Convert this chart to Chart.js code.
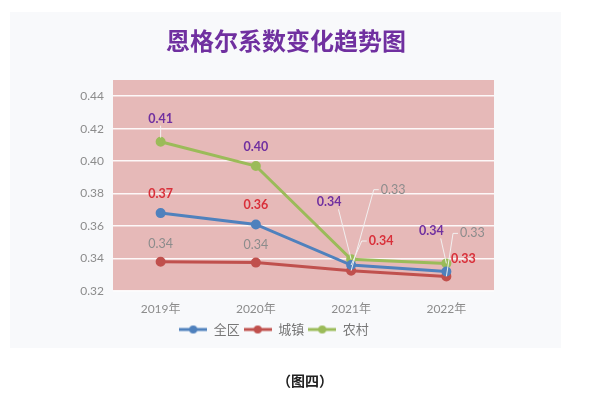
<!DOCTYPE html>
<html>
<head>
<meta charset="utf-8">
<script src="https://cdn.jsdelivr.net/npm/chart.js@4"></script>
<style>
  body { margin: 0; background: #fff; }
  #wrap { position: relative; width: 600px; height: 395px; }
  #chart { position: absolute; left: 0; top: 0; }
  #title {
    position: absolute; left: 0; top: 22px; width: 572px; line-height: 30px;
    text-align: center; font: bold 24px "Noto Sans CJK SC", sans-serif; color: #7030a0;
  }
  #caption {
    position: absolute; left: 0; top: 370px; width: 610px; line-height: 20px;
    text-align: center; font: 600 14px "Noto Sans CJK SC", sans-serif; color: #222;
  }
</style>
</head>
<body>
<div id="wrap">
  <canvas id="chart" width="600" height="395"></canvas>
  <div id="title">恩格尔系数变化趋势图</div>
  <div id="caption">（图四）</div>
</div>
<script>
const years = ["2019年", "2020年", "2021年", "2022年"];
const quanqu = [0.368, 0.361, 0.336, 0.332];      // 全区
const chengzhen = [0.338, 0.3375, 0.3325, 0.329]; // 城镇
const nongcun = [0.412, 0.397, 0.3395, 0.337];    // 农村
const yTicks = [0.32, 0.34, 0.36, 0.38, 0.40, 0.42, 0.44];

const FONT = "Lato, 'Noto Sans CJK SC', sans-serif";

// data label placement: [dx, dy, leader line?]
const labelPos = [
  [[0, -19, 0], [0, -19, 0], [30, -24, 1], [17, -13, 0]],
  [[0, -18, 0], [0, -18, 0], [42, -81, 1], [26, -43, 1]],
  [[0, -23, 1], [0, -19, 0], [-22, -57, 1], [-15, -32, 1]]
];
const labelStyle = [
  { color: "#d9303a", weight: "bold" },
  { color: "#8c8c8c", weight: "normal" },
  { color: "#7030a0", weight: "bold" }
];

// legend marker: short line with a dot, like the Excel legend
function legendMark(color) {
  const c = document.createElement("canvas");
  c.width = 28; c.height = 10;
  const g = c.getContext("2d");
  g.strokeStyle = color; g.lineWidth = 3;
  g.beginPath(); g.moveTo(0, 5); g.lineTo(28, 5); g.stroke();
  g.fillStyle = color;
  g.beginPath(); g.arc(14, 5, 4, 0, Math.PI * 2); g.fill();
  return c;
}

const backgrounds = {
  id: "backgrounds",
  beforeDraw(chart) {
    const ctx = chart.ctx, a = chart.chartArea;
    ctx.save();
    ctx.fillStyle = "#f8f9fb";
    ctx.fillRect(10, 12, 551, 336);
    ctx.fillStyle = "#e6b9b8";
    ctx.fillRect(a.left, a.top, a.right - a.left, a.bottom - a.top);
    ctx.restore();
  }
};

const dataLabels = {
  id: "dataLabels",
  afterDatasetsDraw(chart) {
    const ctx = chart.ctx;
    ctx.save();
    chart.data.datasets.forEach((ds, i) => {
      const meta = chart.getDatasetMeta(i);
      meta.data.forEach((pt, j) => {
        const [dx, dy, leader] = labelPos[i][j];
        const text = ds.data[j].toFixed(2);
        const lx = pt.x + dx, ly = pt.y + dy;
        ctx.font = labelStyle[i].weight + " 12.5px " + FONT;
        const w = ctx.measureText(text).width;
        if (leader) {
          ctx.strokeStyle = "rgba(242,242,242,0.95)";
          ctx.lineWidth = 1;
          ctx.beginPath();
          if (dx === 0) {
            ctx.moveTo(lx, ly + 7); ctx.lineTo(pt.x, pt.y - 4);
          } else if (dx > 0) {
            ctx.moveTo(lx - w / 2 - 2, ly);
            ctx.lineTo(lx - w / 2 - 7, ly);
            ctx.lineTo(pt.x, pt.y);
          } else {
            ctx.moveTo(lx + w / 2 - 3, ly + 7); ctx.lineTo(pt.x, pt.y);
          }
          ctx.stroke();
        }
        ctx.fillStyle = labelStyle[i].color;
        ctx.textAlign = "center";
        ctx.textBaseline = "middle";
        ctx.fillText(text, lx, ly);
      });
    });
    ctx.restore();
  }
};

function series(label, data, color) {
  return {
    label: label,
    data: data,
    borderColor: color,
    backgroundColor: color,
    borderWidth: 3,
    pointRadius: 3.5,
    pointHoverRadius: 3.5,
    pointBackgroundColor: color,
    pointStyle: "circle",
    legendStyle: legendMark(color),
    tension: 0
  };
}

const datasets = [
  series("全区", quanqu, "#4f81bd"),
  series("城镇", chengzhen, "#c0504d"),
  series("农村", nongcun, "#9bbb59")
];

new Chart(document.getElementById("chart"), {
  type: "line",
  data: { labels: years, datasets: datasets },
  options: {
    responsive: false,
    animation: false,
    layout: { padding: { left: 54, right: 106, top: 80, bottom: 49 } },
    scales: {
      x: {
        offset: true,
        afterFit(scale) { scale.height = 28; },
        grid: { display: false, drawTicks: false },
        border: { display: false },
        ticks: { color: "#8c8c8c", padding: 11, font: { family: FONT, size: 12 } }
      },
      y: {
        min: 0.32,
        max: 0.45,
        afterBuildTicks(scale) { scale.ticks = yTicks.map(v => ({ value: v })); },
        afterFit(scale) { scale.width = 59; },
        grid: { color: "rgba(255,255,255,0.9)", lineWidth: 1.5, drawTicks: false },
        border: { display: false },
        ticks: {
          color: "#8c8c8c", padding: 9, font: { family: FONT, size: 12 },
          callback: v => v.toFixed(2)
        }
      }
    },
    plugins: {
      legend: {
        position: "bottom",
        labels: {
          usePointStyle: true,
          pointStyleWidth: 28,
          padding: 4,
          color: "#777",
          font: { family: FONT, size: 13 },
          generateLabels(chart) {
            return chart.data.datasets.map((d, i) => ({
              text: d.label,
              pointStyle: d.legendStyle,
              fillStyle: d.borderColor,
              strokeStyle: d.borderColor,
              fontColor: "#777",
              lineWidth: 0,
              hidden: false,
              datasetIndex: i
            }));
          }
        }
      },
      tooltip: { enabled: false }
    }
  },
  plugins: [backgrounds, dataLabels]
});
</script>
</body>
</html>
